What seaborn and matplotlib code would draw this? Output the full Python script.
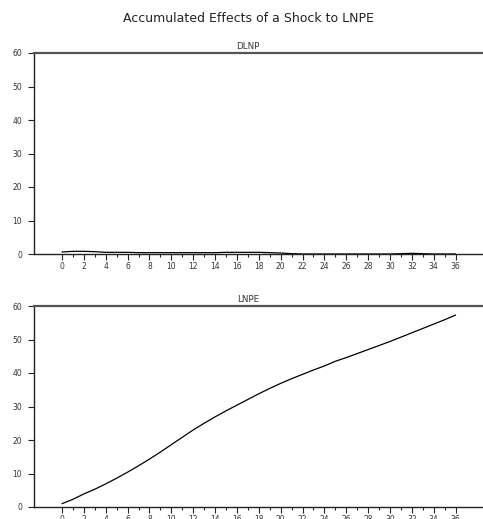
import numpy as np
import pandas as pd
import matplotlib
matplotlib.use("Agg")
import matplotlib.pyplot as plt
import seaborn as sns
from matplotlib.ticker import FixedLocator

# Accumulated responses over 36 periods
periods = list(range(0, 37))
dlnp = [0.6, 0.8, 0.8, 0.7, 0.5, 0.5, 0.5, 0.4, 0.4, 0.4, 0.4, 0.4, 0.4, 0.4,
        0.4, 0.5, 0.5, 0.5, 0.5, 0.4, 0.3, 0.1, 0.0, 0.0, 0.0, 0.0, 0.0, 0.0,
        0.0, 0.0, 0.0, 0.1, 0.2, 0.1, 0.0, 0.0, 0.0]
lnpe = [1.0, 2.3, 3.9, 5.3, 6.9, 8.6, 10.4, 12.3, 14.3, 16.4, 18.6, 20.8, 23.0,
        25.0, 26.9, 28.7, 30.4, 32.1, 33.8, 35.4, 36.9, 38.3, 39.6, 40.9, 42.1,
        43.5, 44.6, 45.8, 47.0, 48.2, 49.4, 50.7, 52.0, 53.3, 54.6, 55.9, 57.3]
panel_names = ["DLNP", "LNPE"]
y_ticks = [0, 10, 20, 30, 40, 50, 60]
x_ticks = list(range(0, 37, 2))

sns.set_style("white")
plt.rcParams["font.family"] = ["DejaVu Sans"]

W, H = 483, 519
fig = plt.figure(figsize=(W / 100, H / 100), dpi=100)
fig.text(248 / W, 1 - 19 / H, "Accumulated Effects of a Shock to LNPE",
         ha="center", va="center", fontsize=9, color="#222222")

panels = [(dlnp, 254), (lnpe, 507)]
for (values, bottom_px), name in zip(panels, panel_names):
    ax = fig.add_axes([34 / W, 1 - bottom_px / H, (W - 34) / W + 0.01, 201 / H])
    df = pd.DataFrame({"period": periods, "value": values})
    sns.lineplot(data=df, x="period", y="value", ax=ax, color="black", lw=0.9)
    ax.set_xlim(-2.56, 38.95)
    ax.set_ylim(0, 60)
    ax.set_xlabel("")
    ax.set_ylabel("")
    fig.text(248 / W, 1 - (bottom_px - 201 - 2) / H, name, ha="center",
             va="bottom", fontsize=6.3, color="#333333")
    for side in ["top", "bottom", "left"]:
        ax.spines[side].set_visible(True)
        ax.spines[side].set_color("#222222")
        ax.spines[side].set_linewidth(1.0)
    ax.spines["top"].set_linewidth(1.6)
    ax.spines["top"].set_color("#555555")
    ax.spines["right"].set_visible(False)
    ax.xaxis.set_major_locator(FixedLocator(x_ticks))
    ax.xaxis.set_minor_locator(FixedLocator(list(range(1, 37, 2))))
    ax.set_yticks(y_ticks)
    ax.tick_params(axis="x", which="major", direction="out", length=4, width=0.8,
                   color="#222222", labelsize=5.5, labelcolor="#333333", pad=1.5,
                   bottom=True)
    ax.tick_params(axis="x", which="minor", direction="out", length=2, width=0.8,
                   color="#222222", bottom=True)
    ax.tick_params(axis="y", which="major", direction="out", length=4, width=0.8,
                   color="#222222", labelsize=5.5, labelcolor="#333333", pad=4.5,
                   left=True)

fig.savefig("out.png", dpi=100)
